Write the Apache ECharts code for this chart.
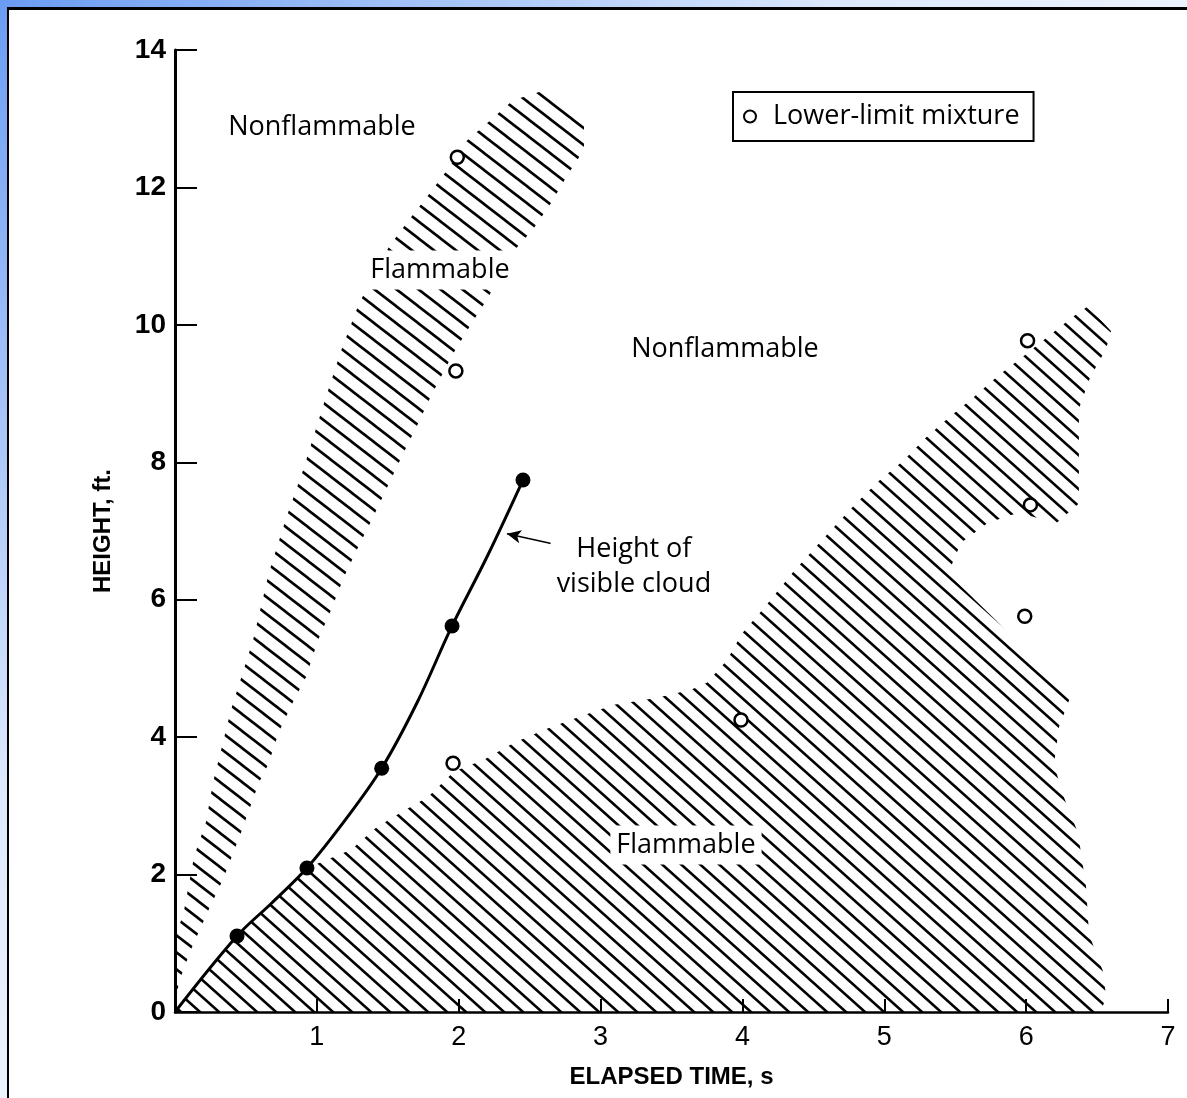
<!DOCTYPE html>
<html><head><meta charset="utf-8">
<script src="https://cdn.jsdelivr.net/npm/echarts@6/dist/echarts.min.js"></script>
<style>
html,body{margin:0;padding:0;width:1187px;height:1098px;overflow:hidden;}
body{background: radial-gradient(ellipse 1300px 1200px at 0 0, #6b9cf3 0%, #9fbff7 30%, #dce8fc 65%, #f3f7fe 100%);}
#frame{position:absolute;left:7px;top:7px;right:-10px;bottom:-10px;background:#fff;border-left:2px solid #000;border-top:3px solid #000;}
#chart{position:absolute;left:0;top:0;width:1187px;height:1098px;}
</style></head><body><div id="frame"></div><div id="chart"></div>
<script>
// ---- data ----
const timeTicks = ['0','1','2','3','4','5','6','7'];
const heightTicks = ['0','2','4','6','8','10','12','14'];
const cloudCurve = [[0,0],[0.437,1.106],[0.684,1.59],[0.930,2.096],[1.191,2.77],[1.457,3.547],[1.706,4.50],[1.953,5.618],[2.203,6.64],[2.453,7.742]];
const cloudPoints = [[0.437,1.106],[0.930,2.096],[1.457,3.547],[1.953,5.618],[2.453,7.742]];
const lowerLimitPoints = [[1.99,12.44],[1.98,9.33],[1.96,3.62],[3.99,4.25],[6.01,9.77],[6.03,7.38],[5.99,5.76]];
const upperFlammable = [[0,0.19],[0,1.06],[0.063,1.47],[0.134,2.26],[0.219,2.77],[0.268,3.34],[0.395,4.40],[0.550,5.41],[0.663,6.40],[0.782,7.18],[0.902,7.88],[1.050,8.86],[1.170,9.62],[1.297,10.31],[1.509,11.14],[1.650,11.53],[1.790,11.90],[1.924,12.27],[2.051,12.67],[2.213,12.96],[2.383,13.27],[2.629,13.43],[2.883,12.93],[2.883,12.55],[2.770,12.19],[2.650,11.77],[2.524,11.39],[2.369,11.03],[2.206,10.39],[2.087,10.01],[1.960,9.58],[1.805,8.97],[1.713,8.56],[1.607,8.12],[1.501,7.66],[1.396,7.20],[1.290,6.76],[1.191,6.33],[1.100,5.85],[1.008,5.41],[0.923,4.87],[0.832,4.51],[0.733,4.08],[0.656,3.60],[0.592,3.34],[0.465,2.61],[0.338,1.93],[0.233,1.47],[0.113,0.91],[0.042,0.52]];
const lowerFlammable = [[0,0],[0.437,1.106],[0.684,1.59],[0.930,2.096],[1.241,2.36],[1.417,2.68],[1.607,2.92],[1.783,3.13],[1.967,3.50],[2.178,3.67],[2.390,3.92],[2.608,4.11],[2.841,4.29],[3.095,4.47],[3.391,4.57],[3.637,4.69],[3.750,4.79],[3.891,5.12],[3.997,5.51],[4.152,5.88],[4.356,6.40],[4.624,7.01],[4.800,7.40],[4.963,7.73],[5.132,8.02],[5.294,8.36],[5.456,8.65],[5.625,8.94],[5.802,9.26],[5.985,9.55],[6.161,9.84],[6.337,10.13],[6.436,10.27],[6.598,9.91],[6.563,9.65],[6.450,9.23],[6.372,8.78],[6.372,7.40],[6.210,7.11],[5.949,7.27],[5.731,7.12],[5.541,6.83],[5.449,6.38],[5.787,5.70],[6.196,4.83],[6.316,4.61],[6.232,4.15],[6.196,3.60],[6.267,3.12],[6.365,2.61],[6.422,1.83],[6.443,1.13],[6.542,0.59],[6.563,0.23],[6.528,0]];
const annotationTexts = ['Nonflammable','Flammable','Nonflammable','Flammable','Height of\nvisible cloud'];
const annotationAt = [[1.036,12.88],[1.868,10.80],[3.877,9.65],[3.602,2.43],[3.235,6.48]];
const arrowFrom = [2.756,6.77];
const arrowTo = [2.34,6.96];

// ---- styling helpers ----
function makeHatch(w, h, lw) {
  const c = document.createElement('canvas');
  c.width = w; c.height = h;
  const ctx = c.getContext('2d');
  ctx.strokeStyle = '#000'; ctx.lineWidth = lw;
  for (let k = -1; k <= 1; k++) {
    ctx.beginPath();
    ctx.moveTo(k * w - w, -h);
    ctx.lineTo(k * w + 2 * w, 2 * h);
    ctx.stroke();
  }
  return c;
}
const hatchUpper = { image: makeHatch(22, 17, 2.6), repeat: 'repeat' };
const hatchLower = { image: makeHatch(19, 17, 2.6), repeat: 'repeat' };

function polygonSeries(points, pattern) {
  return {
    type: 'custom', silent: true, z: 1,
    data: points,
    renderItem: function (params, api) {
      if (params.dataIndex !== 0) return null;
      return { type: 'polygon', shape: { points: points.map(p => api.coord(p)) },
               style: { fill: pattern, stroke: null } };
    }
  };
}

const chart = echarts.init(document.getElementById('chart'), null, { renderer: 'canvas' });
const txtFont = "'Open Sans', 'Liberation Sans', sans-serif";
const axFont = "'Liberation Sans', Arial, sans-serif";
chart.setOption({
  backgroundColor: 'transparent',
  animation: false,
  grid: { left: 175, right: 19, top: 50, bottom: 86 },
  legend: {
    data: ['Lower-limit mixture'], left: 733, top: 92,
    borderColor: '#000', borderWidth: 2, borderRadius: 0, backgroundColor: '#fff',
    padding: [11, 14, 11, 10], itemWidth: 12, itemHeight: 12, itemGap: 0,
    textStyle: { fontSize: 27, fontFamily: txtFont, color: '#000', padding: [0, 0, 0, 12] }
  },
  xAxis: {
    type: 'value', min: 0, max: 7, interval: 1,
    axisLine: { show: true, lineStyle: { color: '#000', width: 2.5 } },
    axisTick: { show: true, inside: true, length: 13, lineStyle: { color: '#000', width: 2 } },
    axisLabel: { showMinLabel: false, margin: 12, fontSize: 27, color: '#000', fontFamily: axFont,
      formatter: v => timeTicks[Math.round(v)] },
    splitLine: { show: false },
    name: 'ELAPSED TIME, s', nameLocation: 'middle', nameGap: 53,
    nameTextStyle: { fontSize: 24, fontWeight: 'bold', color: '#000', fontFamily: axFont }
  },
  yAxis: {
    type: 'value', min: 0, max: 14, interval: 2,
    axisLine: { show: true, lineStyle: { color: '#000', width: 3 } },
    axisTick: { show: true, inside: true, length: 22, lineStyle: { color: '#000', width: 2 } },
    axisLabel: { margin: 9, fontSize: 28, fontWeight: 'bold', color: '#000', fontFamily: axFont,
      formatter: v => heightTicks[Math.round(v / 2)] },
    splitLine: { show: false },
    name: 'HEIGHT, ft.', nameLocation: 'middle', nameGap: 60, nameRotate: 90,
    nameTextStyle: { fontSize: 24, fontWeight: 'bold', color: '#000', fontFamily: axFont }
  },
  series: [
    polygonSeries(upperFlammable, hatchUpper),
    polygonSeries(lowerFlammable, hatchLower),
    {
      type: 'line', name: 'Height of visible cloud', data: cloudCurve, smooth: 0.35,
      showSymbol: false, symbol: 'none', z: 3,
      lineStyle: { color: '#000', width: 3 },
      markLine: {
        silent: true, symbol: ['none', 'arrow'], symbolSize: [10, 14],
        label: { show: false },
        lineStyle: { color: '#000', width: 1.6, type: 'solid' },
        data: [[{ coord: arrowFrom }, { coord: arrowTo }]]
      }
    },
    {
      type: 'scatter', name: 'Visible cloud', data: cloudPoints, symbol: 'circle', symbolSize: 15, z: 4,
      itemStyle: { color: '#000', opacity: 1 }
    },
    {
      type: 'scatter', name: 'Lower-limit mixture', data: lowerLimitPoints, symbol: 'circle', symbolSize: 13, z: 4,
      itemStyle: { color: '#fff', borderColor: '#000', borderWidth: 2.5, opacity: 1 }
    },
    {
      type: 'custom', silent: true, z: 5,
      data: annotationAt,
      renderItem: function (params, api) {
        const p = api.coord([api.value(0), api.value(1)]);
        const t = annotationTexts[params.dataIndex];
        return {
          type: 'text', x: p[0], y: p[1],
          style: {
            text: t, fill: '#000', font: "27px " + txtFont, align: 'center', verticalAlign: 'middle',
            lineHeight: 35, backgroundColor: '#fff', padding: [2, 6, 2, 6]
          }
        };
      }
    }
  ]
});
</script></body></html>
